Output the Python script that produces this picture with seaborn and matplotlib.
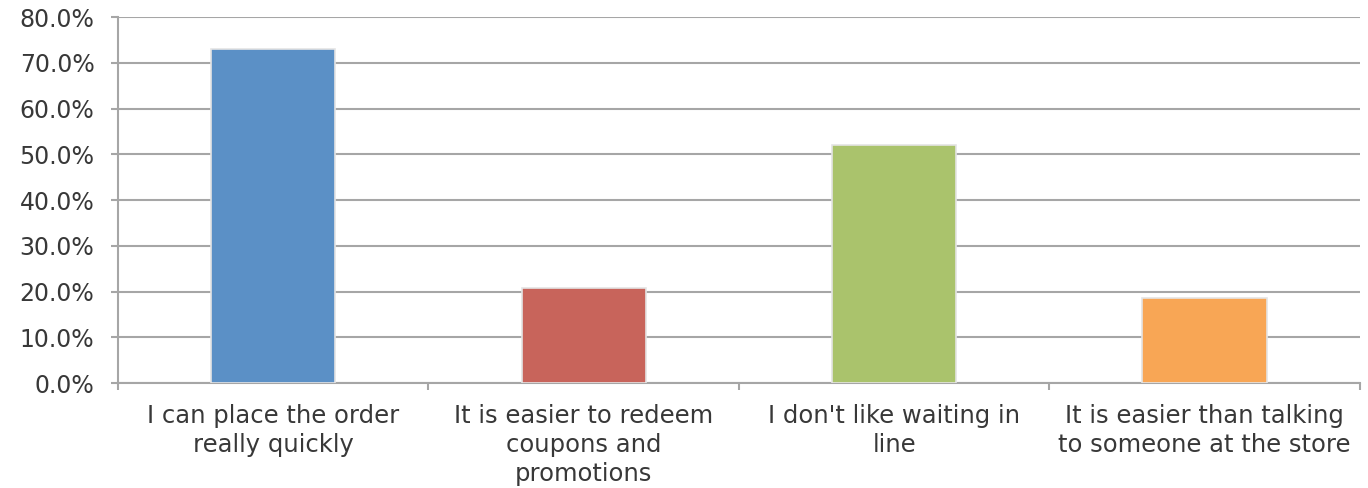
import matplotlib
matplotlib.use("Agg")
import matplotlib.pyplot as plt
import matplotlib.ticker as mticker
import seaborn as sns
import pandas as pd

categories = [
    "I can place the order\nreally quickly",
    "It is easier to redeem\ncoupons and\npromotions",
    "I don't like waiting in\nline",
    "It is easier than talking\nto someone at the store",
]
shares = [73.1, 20.7, 52.1, 18.5]
colors = ["#5B90C6", "#C8645B", "#AAC36C", "#F8A655"]
y_ticks = [0, 10, 20, 30, 40, 50, 60, 70, 80]

sns.set_theme(style="white")
plt.rcParams["font.family"] = ["DejaVu Sans"]

df = pd.DataFrame({"reason": categories, "share": shares})

fig = plt.figure(figsize=(13.68, 4.88), dpi=100)
ax = fig.add_axes([0.0863, 0.215, 0.9077, 0.750])

sns.barplot(data=df, x="reason", y="share", hue="reason", palette=colors,
            saturation=1, width=0.4, legend=False, ax=ax,
            edgecolor="#E4E4E4", linewidth=1.2, zorder=3)

grid_color = "#A6A6A6"
text_color = "#383838"
ax.set_ylim(0, 80)
ax.set_xlim(-0.5, len(categories) - 0.5)
ax.set_yticks(y_ticks)
ax.yaxis.set_major_formatter(mticker.FuncFormatter(lambda v, _: f"{v:.1f}%"))
ax.yaxis.grid(True, color=grid_color, linewidth=1.5, zorder=0)
ax.set_axisbelow(True)

for side in ["top", "right"]:
    ax.spines[side].set_visible(False)
for side in ["left", "bottom"]:
    ax.spines[side].set_color(grid_color)
    ax.spines[side].set_linewidth(1.5)

ax.tick_params(axis="y", which="major", left=True, length=5, width=1.5,
               color=grid_color, labelsize=17, labelcolor=text_color, pad=12)
ax.tick_params(axis="x", which="major", bottom=False, labelsize=17.5,
               labelcolor=text_color, pad=9)
ax.set_xticks([i - 0.5 for i in range(len(categories) + 1)], minor=True)
ax.tick_params(axis="x", which="minor", bottom=True, length=5, width=1.5,
               color=grid_color)
for lbl in ax.get_xticklabels():
    lbl.set_linespacing(1.27)

ax.set_xlabel("")
ax.set_ylabel("")

fig.savefig("out.png", dpi=100)
